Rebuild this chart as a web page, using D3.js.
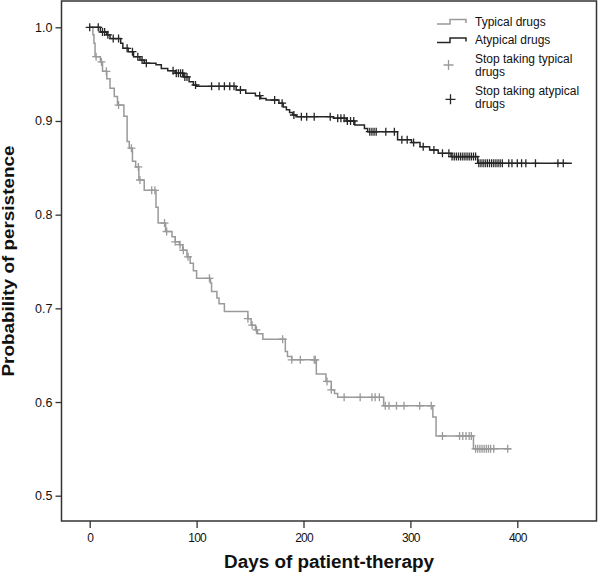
<!DOCTYPE html>
<html>
<head>
<meta charset="utf-8">
<script src="https://cdn.jsdelivr.net/npm/d3@7"></script>
<style>
  html, body { margin: 0; padding: 0; background: #fff; }
  svg { display: block; }
  text { font-family: "Liberation Sans", Arial, sans-serif; }
</style>
</head>
<body>
<svg id="chart" width="600" height="576"></svg>
<script>
// ---- data ----
const xTicks = [0, 100, 200, 300, 400];
const yTicks = [0.5, 0.6, 0.7, 0.8, 0.9, 1.0];
const yTickLabels = ["0.5", "0.6", "0.7", "0.8", "0.9", "1.0"];

// Typical drugs: step times and survival after each step
const typicalEventDays = [0, 3, 4, 5, 10, 12, 16, 19, 23, 26, 32, 35, 37, 40, 43, 46, 51, 62, 64, 71, 77, 80, 84, 87, 91, 94, 97, 100,
  113, 114, 119, 121, 126, 148, 151, 155, 157, 162, 183, 185, 189, 212, 221, 226, 229, 232, 275, 321, 324, 359];
const typicalSurvival = [1.0, 0.992, 0.983, 0.9686, 0.963, 0.953, 0.945, 0.935, 0.926, 0.917, 0.905, 0.878, 0.871, 0.857, 0.851, 0.837, 0.826, 0.808, 0.791, 0.782, 0.7765, 0.771, 0.768, 0.762, 0.755, 0.748, 0.74, 0.732,
  0.727, 0.718, 0.711, 0.705, 0.6965, 0.689, 0.682, 0.677, 0.673, 0.667, 0.654, 0.6485, 0.645, 0.630, 0.622, 0.613, 0.609, 0.605, 0.596, 0.584, 0.5638, 0.550];
const typicalLastDay = 394;
const typicalCensorDays = [6, 11, 15.6, 27, 39, 45.5, 47, 58, 61, 70, 72, 80, 84.5, 87.6, 92, 112, 148, 152, 156, 180.5, 189, 197, 210, 211,
  222, 226, 238, 253, 264, 267, 271, 276.5, 280, 287, 294, 308.7, 319.5, 330, 346, 349, 352, 355, 357,
  361, 363, 365, 367, 369, 371, 373, 375, 378, 391];

// Atypical drugs
const atypicalEventDays = [0, 10, 16, 19, 29, 31, 36, 41, 47, 51, 62, 67, 73, 80, 88, 93, 97, 100, 137, 146, 155, 160, 165, 177, 181, 184, 187, 190, 193,
  228, 240, 248, 257, 260, 288, 301, 309, 318, 326, 338, 363];
const atypicalSurvival = [1.0, 0.995, 0.992, 0.988, 0.983, 0.9776, 0.974, 0.9686, 0.965, 0.9616, 0.96, 0.956, 0.9537, 0.951, 0.947, 0.942, 0.9384, 0.937, 0.933, 0.9296, 0.927, 0.924, 0.9224, 0.919, 0.915, 0.912, 0.909, 0.9064, 0.9046,
  0.903, 0.9, 0.8957, 0.892, 0.8886, 0.88, 0.877, 0.8726, 0.869, 0.8655, 0.862, 0.8548];
const atypicalLastDay = 451;
const atypicalCensorDays = [0, 8, 12, 14, 17, 22, 27, 35, 40, 45, 49, 53, 78, 81, 83, 85, 87, 89, 91, 99, 114, 121, 126, 131, 135, 141, 159, 173,
  180, 191, 198, 203, 210, 225, 232, 235, 238, 241, 244, 247, 262, 264, 266, 268, 277, 285, 292, 297, 303, 312, 322, 330,
  336, 339, 341, 343, 345, 347, 349, 351, 353, 355, 357, 359, 361, 364, 366, 368, 370, 372, 374, 376, 378, 380, 382, 384, 386,
  392, 395, 400, 404, 408, 417, 438, 443];

const legendLabels = [["Typical drugs"], ["Atypical drugs"], ["Stop taking typical", "drugs"], ["Stop taking atypical", "drugs"]];
const xTitle = "Days of patient-therapy";
const yTitle = "Probability of persistence";

// ---- styling ----
const typicalColor = "#9a9a9a";
const atypicalColor = "#262626";
const axisColor = "#333";

const svg = d3.select("#chart");
const frame = { left: 61.5, top: 1, right: 596.5, bottom: 521 };

const x = d3.scaleLinear().domain([0, 400]).range([89.7, 517.3]);
const y = d3.scaleLinear().domain([0.5, 1.0]).range([495.7, 27.3]);

// frame
svg.append("rect")
  .attr("x", frame.left).attr("y", frame.top)
  .attr("width", frame.right - frame.left).attr("height", frame.bottom - frame.top)
  .attr("fill", "none").attr("stroke", axisColor).attr("stroke-width", 1.5);

// y axis
const yAxis = d3.axisLeft(y).tickValues(yTicks).tickSize(6).tickPadding(3)
  .tickFormat((d, i) => yTickLabels[i]);
const gy = svg.append("g").attr("transform", `translate(${frame.left},0)`).call(yAxis);
gy.select(".domain").remove();
gy.selectAll(".tick line").attr("stroke", axisColor).attr("stroke-width", 1.3);
gy.selectAll(".tick text").attr("font-size", 12.5).attr("fill", "#111")
  .attr("font-family", "'Liberation Sans', Arial, sans-serif");

// x axis
const xAxis = d3.axisBottom(x).tickValues(xTicks).tickSize(7).tickPadding(5).tickFormat(d3.format("d"));
const gx = svg.append("g").attr("transform", `translate(0,${frame.bottom})`).call(xAxis);
gx.select(".domain").remove();
gx.selectAll(".tick line").attr("stroke", axisColor).attr("stroke-width", 1.3);
gx.selectAll(".tick text").attr("font-size", 12).attr("fill", "#111")
  .attr("font-family", "'Liberation Sans', Arial, sans-serif").attr("letter-spacing", -0.8);

// axis titles
svg.append("text")
  .attr("x", (frame.left + frame.right) / 2).attr("y", 568)
  .attr("text-anchor", "middle").attr("font-weight", "bold").attr("font-size", 18)
  .attr("textLength", 210).attr("lengthAdjust", "spacingAndGlyphs")
  .attr("fill", "#111").text(xTitle);

svg.append("text")
  .attr("transform", `translate(14,${(frame.top + frame.bottom) / 2}) rotate(-90)`)
  .attr("text-anchor", "middle").attr("font-weight", "bold").attr("font-size", 16.5)
  .attr("textLength", 231).attr("lengthAdjust", "spacingAndGlyphs")
  .attr("fill", "#111").text(yTitle);

// curves
function survivalAt(days, surv, t) {
  const i = d3.bisectRight(days, t) - 1;
  return surv[Math.max(0, i)];
}
const stepLine = d3.line().x(d => x(d[0])).y(d => y(d[1])).curve(d3.curveStepAfter);
const crossPath = "M-4,0H4M0,-4V4";

function drawCurve(days, surv, lastDay, censor, color) {
  const pts = days.map((d, i) => [d, surv[i]]);
  pts.push([lastDay, surv[surv.length - 1]]);
  svg.append("path").attr("d", stepLine(pts))
    .attr("fill", "none").attr("stroke", color).attr("stroke-width", 1.5);
  svg.append("g").selectAll("path").data(censor).join("path")
    .attr("transform", t => `translate(${x(t)},${y(survivalAt(days, surv, t))})`)
    .attr("d", crossPath).attr("fill", "none").attr("stroke", color).attr("stroke-width", 1.3);
}
drawCurve(typicalEventDays, typicalSurvival, typicalLastDay, typicalCensorDays, typicalColor);
drawCurve(atypicalEventDays, atypicalSurvival, atypicalLastDay, atypicalCensorDays, atypicalColor);

// legend
const legend = svg.append("g");
const legendColors = [typicalColor, atypicalColor, typicalColor, atypicalColor];
const legendBaselines = [[26], [44.3], [62.5, 76.3], [94.5, 108.3]];
const symbolY = [22, 40.5, 65, 99.3];
legendLabels.forEach((lines, i) => {
  if (i < 2) {
    const yl = symbolY[i];
    legend.append("path")
      .attr("d", `M437,${yl + 2}H450V${yl - 2.5}H466V${yl + 1}`)
      .attr("fill", "none").attr("stroke", legendColors[i]).attr("stroke-width", 1.5);
  } else {
    legend.append("path")
      .attr("transform", `translate(${i === 2 ? 448.5 : 450.5},${symbolY[i]})`)
      .attr("d", "M-5,0H5M0,-5V5")
      .attr("fill", "none").attr("stroke", legendColors[i]).attr("stroke-width", 1.3);
  }
  lines.forEach((ln, j) => {
    legend.append("text").attr("x", 475).attr("y", legendBaselines[i][j])
      .attr("font-size", 12).attr("fill", "#111").text(ln);
  });
});
</script>
</body>
</html>
